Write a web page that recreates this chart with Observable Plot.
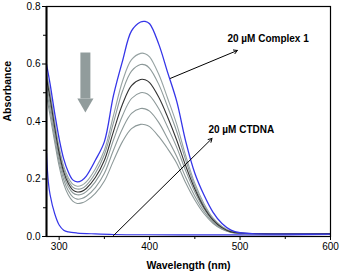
<!DOCTYPE html>
<html><head><meta charset="utf-8">
<script src="https://cdn.jsdelivr.net/npm/d3@7"></script>
<script src="https://cdn.jsdelivr.net/npm/@observablehq/plot@0.6"></script>
<style>body{margin:0;background:#fff}</style>
</head><body><div id="chart"></div>
<script>
const wavelengths = [286,290,295,300,305,310,315,320,325,330,340,350,360,370,380,390,395,400,410,420,430,440,450,460,470,480,490,500,520,550,600];
const complex1 = [0.60,0.53,0.43,0.34,0.27,0.225,0.197,0.19,0.195,0.21,0.265,0.33,0.49,0.61,0.715,0.746,0.748,0.74,0.67,0.57,0.47,0.33,0.22,0.145,0.085,0.045,0.022,0.013,0.009,0.008,0.008];
const titr1 = [0.57,0.50,0.40,0.31,0.245,0.205,0.182,0.175,0.178,0.19,0.235,0.30,0.42,0.54,0.615,0.637,0.636,0.625,0.565,0.48,0.39,0.28,0.185,0.115,0.065,0.035,0.018,0.012,0.010,0.009,0.010];
const titr2 = [0.56,0.49,0.39,0.30,0.235,0.195,0.172,0.165,0.167,0.178,0.22,0.285,0.395,0.505,0.575,0.598,0.597,0.585,0.53,0.45,0.365,0.265,0.175,0.108,0.062,0.033,0.017,0.012,0.010,0.009,0.010];
const titr3 = [0.55,0.48,0.38,0.29,0.225,0.185,0.162,0.155,0.157,0.167,0.205,0.265,0.365,0.46,0.525,0.546,0.545,0.535,0.485,0.415,0.335,0.245,0.165,0.102,0.058,0.031,0.016,0.012,0.010,0.009,0.010];
const titr4 = [0.53,0.46,0.36,0.275,0.212,0.174,0.152,0.145,0.147,0.156,0.19,0.245,0.335,0.42,0.48,0.50,0.499,0.49,0.445,0.38,0.31,0.228,0.155,0.097,0.055,0.030,0.016,0.011,0.010,0.009,0.010];
const titr5 = [0.51,0.44,0.345,0.26,0.198,0.16,0.138,0.13,0.132,0.14,0.17,0.22,0.30,0.375,0.428,0.445,0.444,0.436,0.397,0.34,0.278,0.205,0.14,0.088,0.05,0.027,0.015,0.011,0.010,0.009,0.010];
const titr6 = [0.49,0.42,0.33,0.245,0.183,0.145,0.123,0.115,0.117,0.124,0.15,0.193,0.263,0.33,0.375,0.39,0.389,0.382,0.348,0.305,0.255,0.186,0.127,0.08,0.046,0.025,0.014,0.011,0.010,0.009,0.010];
const dnaWavelengths = [286,288,290,295,300,305,310,320,340,360,400,450,500,550,600];
const ctdna = [0.29,0.19,0.145,0.08,0.04,0.022,0.016,0.012,0.009,0.007,0.006,0.006,0.006,0.006,0.007];
const seriesNames = ["t6","t5","t4","t2","t1","t3","complex1"];
const seriesColors = {t1:"#97a3a3",t2:"#8d9999",t3:"#333333",t4:"#8d9999",t5:"#8d9999",t6:"#8d9999",complex1:"#3535e8"};
const yTicks = [0,0.2,0.4,0.6,0.8];
const yMinor = [0.1,0.3,0.5,0.7];
const xTicks = [300,400,500,600];
const xMinor = [350,450,550];
const labelComplex = "20 µM Complex 1";
const labelDNA = "20 µM CTDNA";
const arrowsData = [
  {x1:423,y1:0.55,x2:497,y2:0.647},
  {x1:360,y1:0.003,x2:469,y2:0.341}
];
const textData = [
  {x:486,y:0.689,t:labelComplex},
  {x:465,y:0.372,t:labelDNA}
];
const bigArrow = {x:329, yTop:0.64, yBase:0.48, yHead:0.464};

const seriesMap = {t1:titr1,t2:titr2,t3:titr3,t4:titr4,t5:titr5,t6:titr6,complex1:complex1};
const rows = [];
for (const s of seriesNames) seriesMap[s].forEach((v,i)=>rows.push({s, x:wavelengths[i], y:v}));
const dnaRows = dnaWavelengths.map((x,i)=>({x,y:ctdna[i]}));

const chart = Plot.plot({
  width:340, height:273,
  marginLeft:46, marginRight:10, marginTop:6, marginBottom:37,
  style:{fontFamily:"Arial, 'Liberation Sans', sans-serif", fontSize:"10px", color:"black", background:"white"},
  x:{domain:[286,600]},
  y:{domain:[0,0.8]},
  marks:[
    Plot.line(dnaRows,{x:"x",y:"y",stroke:"#3535e8",strokeWidth:1.2,curve:"catmull-rom",clip:true}),
    ...seriesNames.map(s=>Plot.line(rows.filter(r=>r.s===s),{x:"x",y:"y",stroke:seriesColors[s],strokeWidth:s==="complex1"?1.3:1.1,curve:"catmull-rom",clip:true})),
    Plot.link([bigArrow],{x1:"x",x2:"x",y1:"yTop",y2:"yBase",stroke:"#919c9c",strokeWidth:10}),
    Plot.dot([bigArrow],{x:"x",y:"yHead",symbol:"triangle",r:6,rotate:180,fill:"#919c9c",stroke:"none"}),
    Plot.arrow(arrowsData,{x1:"x1",y1:"y1",x2:"x2",y2:"y2",stroke:"black",strokeWidth:1,headLength:6}),
    Plot.text(textData,{x:"x",y:"y",text:"t",textAnchor:"start",fontWeight:"bold",fontSize:10}),
    Plot.axisY({ticks:yTicks,tickFormat:d=>d.toFixed(1),tickSize:4,tickPadding:2,label:null}),
    Plot.axisY({ticks:yMinor,tickFormat:()=>"",tickSize:3,label:null}),
    Plot.axisX({ticks:xTicks,tickFormat:d=>String(d),tickSize:4,tickPadding:2,label:null}),
    Plot.axisX({ticks:xMinor,tickFormat:()=>"",tickSize:3,label:null}),
    Plot.frame({stroke:"black",strokeWidth:1.2}),
    Plot.ruleX([286],{stroke:"black",strokeWidth:2}),
    Plot.text(["Wavelength (nm)"],{frameAnchor:"bottom",dy:29,fontWeight:"bold",fontSize:10.5,lineAnchor:"middle"}),
    Plot.text(["Absorbance"],{frameAnchor:"left",dx:-39,rotate:-90,fontWeight:"bold",fontSize:10.5,lineAnchor:"middle"})
  ]
});
document.getElementById("chart").appendChild(chart);
</script>
</body></html>
